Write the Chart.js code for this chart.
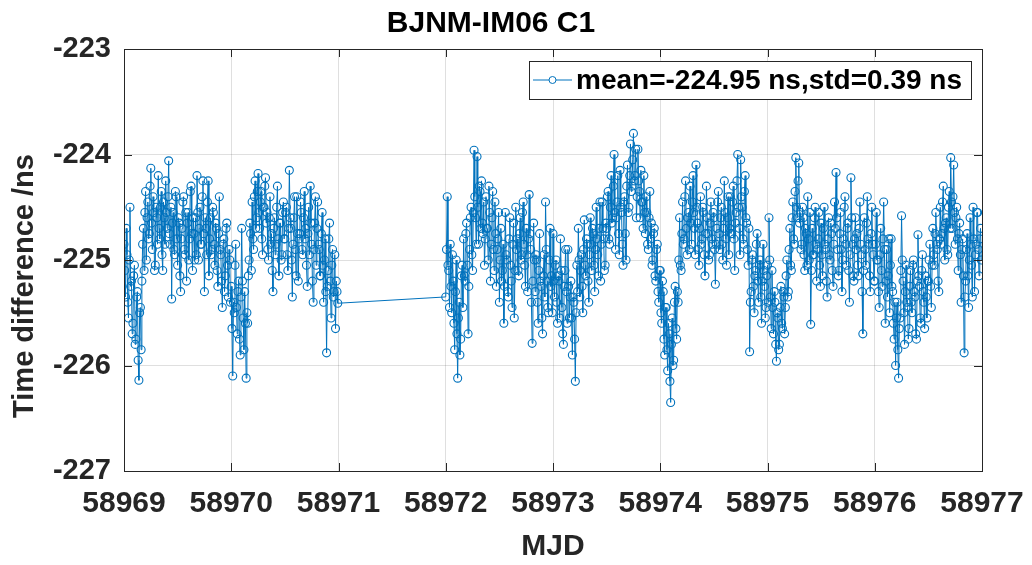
<!DOCTYPE html>
<html>
<head>
<meta charset="utf-8">
<script src="https://cdn.jsdelivr.net/npm/chart.js@4.4.1/dist/chart.umd.min.js"></script>
<style>
  html, body { margin: 0; padding: 0; background: #fff; }
  #wrap { width: 1032px; height: 565px; }
</style>
</head>
<body>
<div id="wrap"><canvas id="chart" width="1032" height="565"></canvas></div>
<script>
// sampling: one point every 10 min, two runs with a gap on 58971
const SEG1_START = 58969.0;
const SEG2_START = 58972.0;
const SAMPLE_STEP = 1 / 144;

// MJD 58969.0 - 58971.0 (rows of 4 h)
const seg1Values = [
  -224.85, -225.10, -225.35, -224.70, -224.95, -225.40, -225.55, -225.00, -224.50, -225.25, -225.20, -225.70, -225.60, -225.15, -225.05, -225.80, -225.75, -225.35, -225.30, -225.95, -226.14, -225.50, -225.45, -225.85,
  -225.20, -224.85, -224.70, -225.10, -224.55, -224.35, -225.00, -224.60, -224.45, -224.80, -224.75, -224.30, -224.13, -224.65, -224.90, -224.40, -224.55, -225.10, -225.05, -224.50, -224.60, -224.85, -224.20, -224.70,
  -224.80, -224.50, -224.35, -224.95, -225.10, -224.45, -224.60, -224.85, -224.25, -224.55, -224.70, -224.40, -224.06, -224.75, -224.85, -224.50, -225.37, -224.65, -224.55, -224.90, -224.95, -224.35, -224.40, -224.80,
  -225.05, -224.60, -224.65, -225.15, -225.30, -224.80, -224.70, -224.45, -224.40, -224.90, -224.95, -224.55, -225.20, -224.65, -224.55, -225.00, -224.80, -224.35, -224.30, -224.75, -225.10, -224.60, -224.75, -225.00,
  -224.60, -224.95, -224.20, -224.55, -225.00, -224.70, -224.50, -224.85, -224.85, -224.40, -224.25, -224.75, -225.30, -224.60, -224.70, -224.95, -224.45, -224.25, -225.15, -224.80, -224.60, -224.95, -224.90, -224.50,
  -224.55, -224.85, -225.05, -224.65, -224.70, -225.10, -225.25, -224.75, -224.40, -224.90, -224.95, -225.20, -225.45, -224.85, -224.80, -225.30, -225.15, -224.70, -224.65, -225.05, -225.35, -224.90, -225.00, -225.40,
  -225.25, -225.65, -226.10, -225.40, -225.50, -225.05, -224.85, -225.45, -225.70, -225.30, -225.20, -225.75, -225.90, -225.35, -224.70, -225.20, -225.55, -225.85, -225.30, -225.60, -226.12, -225.50, -225.60, -225.15,
  -225.00, -224.65, -224.75, -225.10, -224.45, -224.80, -224.90, -224.40, -224.25, -224.70, -224.60, -224.35, -224.18, -224.55, -224.70, -224.45, -224.35, -224.80, -224.95, -224.50, -224.50, -224.30, -224.22, -224.65,
  -224.55, -224.90, -225.00, -224.60, -224.40, -224.85, -224.75, -225.10, -225.30, -224.70, -224.60, -224.95, -224.85, -224.50, -224.30, -224.80, -225.15, -224.65, -224.65, -225.00, -224.95, -224.55, -224.45, -224.80,
  -224.80, -224.55, -224.50, -224.95, -225.10, -224.70, -224.15, -224.60, -224.70, -225.00, -225.35, -224.85, -224.60, -224.40, -224.90, -225.15, -224.40, -224.75, -225.20, -224.80, -224.75, -224.45, -224.55, -224.90,
  -224.95, -224.60, -224.35, -224.80, -224.70, -225.05, -225.25, -224.75, -224.50, -224.95, -224.30, -224.65, -224.85, -225.20, -225.40, -224.90, -224.65, -224.40, -225.05, -224.70, -224.45, -224.85, -224.90, -225.15,
  -225.15, -224.75, -224.55, -225.05, -225.40, -225.00, -224.80, -225.30, -225.88, -225.25, -225.10, -224.80, -224.65, -225.20, -225.55, -225.05, -224.90, -225.35, -225.30, -224.95, -225.65, -225.20, -225.30, -225.41
];

// MJD 58972.0 - 58977.0 (rows of 4 h)
const seg2Values = [
  -225.35, -224.90, -224.40, -225.05, -225.10, -225.45, -224.85, -225.25, -225.50, -224.95, -225.20, -225.60, -225.85, -225.30, -225.00, -225.70, -226.12, -225.55, -225.40, -225.90, -225.75, -225.15, -225.05, -225.45,
  -224.80, -225.15, -225.20, -224.75, -224.65, -225.05, -225.70, -225.25, -224.90, -224.60, -224.50, -224.95, -225.10, -224.55, -223.96, -224.40, -224.60, -224.85, -224.02, -224.50, -224.85, -224.30, -224.35, -224.70,
  -224.25, -224.65, -224.75, -224.45, -225.05, -224.80, -224.40, -224.70, -224.70, -225.00, -224.30, -224.55, -225.20, -224.85, -224.60, -224.35, -224.90, -225.10, -224.45, -224.75, -225.25, -224.90, -224.80, -224.55,
  -225.40, -225.00, -224.70, -225.20, -225.10, -224.85, -225.60, -225.25, -224.55, -224.95, -225.00, -225.30, -225.35, -224.80, -224.60, -225.05, -225.20, -225.45, -224.85, -224.65, -225.55, -225.10, -224.50, -224.90,
  -224.80, -225.10, -225.15, -224.75, -224.60, -225.00, -224.95, -224.55, -224.45, -224.85, -225.05, -225.25, -224.70, -224.95, -225.30, -224.80, -224.38, -224.75, -224.90, -225.40, -225.79, -225.20, -224.65, -225.00,
  -225.30, -224.95, -225.00, -225.40, -225.60, -225.10, -224.75, -225.20, -225.25, -225.55, -225.70, -225.15, -224.95, -225.35, -224.45, -224.90, -225.20, -225.45, -225.50, -225.00, -224.70, -225.25, -225.15, -225.50,
  -224.75, -225.20, -225.35, -225.05, -225.00, -225.40, -225.60, -225.15, -225.20, -225.55, -224.80, -225.10, -225.45, -225.70, -225.80, -225.25, -225.10, -224.90, -225.30, -225.60, -224.90, -225.25, -225.55, -225.35,
  -225.20, -225.55, -225.90, -225.35, -225.40, -225.75, -226.15, -225.50, -225.05, -225.30, -224.70, -225.00, -225.35, -225.10, -224.95, -225.25, -225.50, -224.90, -224.62, -225.05, -225.15, -224.80, -224.85, -225.20,
  -225.40, -224.95, -224.60, -224.85, -225.10, -224.70, -224.75, -225.05, -225.30, -224.90, -224.50, -224.80, -224.95, -225.15, -224.70, -224.45, -225.20, -224.85, -224.45, -224.70, -224.80, -225.10, -225.05, -224.65,
  -224.70, -224.40, -224.35, -224.80, -224.85, -224.50, -224.20, -224.65, -224.60, -224.30, -224.00, -224.55, -224.90, -224.60, -224.45, -224.20, -224.75, -224.95, -224.15, -224.50, -224.55, -224.85, -225.05, -224.45,
  -224.40, -224.75, -225.00, -224.30, -224.10, -224.55, -224.50, -224.20, -223.90, -224.35, -224.30, -224.05, -223.80, -224.25, -224.20, -223.95, -224.60, -224.40, -223.95, -224.25, -224.35, -224.60, -224.15, -224.45,
  -224.45, -224.70, -224.20, -224.55, -224.75, -224.40, -224.55, -224.85, -224.90, -224.60, -224.35, -224.80, -224.65, -225.05, -225.00, -224.75, -224.70, -225.15, -225.20, -224.90, -224.85, -225.30, -225.40, -225.10,
  -225.10, -225.50, -225.60, -225.20, -225.30, -225.75, -225.90, -225.45, -225.45, -225.85, -226.05, -225.60, -225.70, -226.15, -226.35, -225.80, -225.55, -226.00, -225.95, -225.40, -225.25, -225.65, -225.75, -225.30,
  -225.40, -225.00, -224.60, -225.05, -225.10, -224.75, -224.45, -224.85, -224.80, -224.40, -224.25, -224.70, -224.95, -224.60, -224.55, -224.90, -224.30, -224.65, -224.85, -224.45, -224.20, -224.55, -224.70, -224.95,
  -224.10, -224.50, -224.65, -224.90, -225.05, -224.70, -224.40, -224.85, -224.80, -224.50, -224.55, -224.95, -225.15, -224.75, -224.30, -224.60, -224.75, -225.00, -224.95, -224.65, -224.45, -224.80, -224.85, -224.55,
  -224.60, -224.90, -225.23, -224.85, -224.70, -224.45, -224.35, -224.75, -224.90, -224.60, -224.50, -224.85, -225.00, -224.70, -224.25, -224.55, -224.80, -225.05, -224.60, -224.40, -224.95, -224.70, -224.40, -224.75,
  -224.75, -224.45, -224.30, -224.80, -225.10, -224.65, -224.55, -224.25, -224.00, -224.50, -224.70, -224.95, -224.05, -224.40, -224.50, -224.80, -224.85, -224.35, -224.20, -224.60, -224.65, -224.90, -225.05, -224.70,
  -225.87, -225.40, -225.30, -225.00, -224.95, -225.25, -225.50, -225.15, -225.10, -224.85, -224.75, -225.20, -225.40, -225.05, -225.00, -225.35, -225.60, -225.20, -224.85, -225.10, -225.25, -225.55, -225.45, -225.15,
  -225.05, -225.40, -224.60, -225.00, -225.35, -225.65, -225.10, -225.45, -225.70, -225.30, -225.40, -225.80, -225.96, -225.50, -225.55, -225.85, -225.80, -225.45, -225.25, -225.60, -225.65, -225.30, -225.35, -225.70,
  -225.45, -225.15, -225.00, -225.35, -225.30, -224.90, -224.70, -225.05, -225.10, -224.60, -224.45, -224.80, -224.85, -224.35, -224.03, -224.50, -224.60, -224.25, -224.08, -224.65, -224.55, -224.90, -224.85, -224.50,
  -224.60, -224.95, -225.10, -224.70, -224.75, -225.05, -224.40, -224.80, -225.00, -224.55, -225.61, -225.10, -224.70, -224.95, -224.95, -224.60, -224.50, -224.85, -225.20, -224.90, -224.80, -224.55, -225.05, -225.25,
  -224.65, -224.95, -225.15, -224.70, -224.50, -224.85, -224.90, -225.20, -225.35, -224.80, -224.60, -224.95, -225.00, -224.65, -224.75, -225.10, -225.25, -224.85, -224.45, -224.70, -224.17, -224.60, -224.90, -225.15,
  -225.10, -224.75, -224.55, -224.90, -225.30, -225.00, -224.80, -224.50, -224.40, -224.85, -225.05, -224.70, -224.65, -225.10, -225.40, -224.95, -224.22, -224.60, -224.85, -225.15, -225.20, -224.80, -224.60, -224.90,
  -224.75, -225.05, -225.15, -224.70, -224.45, -224.85, -224.95, -225.30, -225.70, -225.10, -224.60, -224.90, -225.05, -224.65, -224.40, -224.80, -224.85, -225.15, -225.30, -224.75, -224.50, -224.85, -224.95, -225.20,
  -225.20, -224.85, -224.55, -225.00, -225.00, -225.30, -225.45, -224.95, -224.70, -225.10, -225.25, -224.80, -224.45, -224.90, -225.60, -225.20, -224.90, -225.35, -225.15, -224.80, -225.50, -225.05, -224.80, -225.25,
  -225.30, -225.60, -225.75, -225.40, -226.00, -225.55, -225.40, -225.85, -226.12, -225.65, -225.55, -225.10, -224.58, -225.00, -225.20, -225.50, -225.80, -225.30, -225.05, -225.40, -225.45, -225.75, -225.65, -225.25,
  -225.10, -225.40, -225.50, -225.05, -225.00, -225.30, -225.35, -225.70, -225.75, -225.20, -224.76, -225.15, -225.25, -225.55, -225.60, -225.10, -224.95, -225.30, -225.40, -225.65, -225.15, -225.35, -225.55, -225.20,
  -225.20, -225.00, -224.85, -225.25, -225.45, -225.05, -224.70, -224.95, -225.05, -224.75, -224.55, -224.85, -224.90, -225.20, -225.30, -224.80, -224.50, -224.85, -224.75, -224.45, -224.30, -224.70, -225.00, -224.65,
  -224.60, -224.90, -224.95, -224.50, -224.35, -224.70, -224.03, -224.45, -224.70, -224.40, -224.10, -224.55, -224.85, -224.60, -224.50, -224.80, -225.10, -224.75, -224.65, -224.95, -225.40, -224.90, -224.80, -225.15,
  -225.88, -225.35, -225.20, -224.90, -224.75, -225.15, -225.45, -225.00, -224.60, -224.85, -225.05, -225.35, -224.50, -224.80, -225.30, -224.95, -224.85, -224.55, -224.55, -224.90, -225.15, -224.80, -224.70, -225.00
];

const xTicks = [58969, 58970, 58971, 58972, 58973, 58974, 58975, 58976, 58977];
const yTicks = [-227, -226, -225, -224, -223];

const titleText = "BJNM-IM06 C1";
const xTitle = "MJD";
const yTitle = "Time difference /ns";
const legendLabel = "mean=-224.95 ns,std=0.39 ns";

const BLUE = "#0072BD";
const AXIS = "#262626";
const FONT = "'Liberation Sans', Arial, Helvetica, sans-serif";

const points = [
  ...seg1Values.map((v, i) => ({ x: SEG1_START + i * SAMPLE_STEP, y: v })),
  ...seg2Values.map((v, i) => ({ x: SEG2_START + i * SAMPLE_STEP, y: v })),
];

// box around the axes + inward ticks, matlab style
const framePlugin = {
  id: "frame",
  afterDatasetsDraw(chart) {
    const { ctx, chartArea: a, scales } = chart;
    const len = 8;
    ctx.save();
    ctx.strokeStyle = AXIS;
    ctx.lineWidth = 1;
    ctx.beginPath();
    xTicks.forEach(v => {
      const px = Math.round(scales.x.getPixelForValue(v)) + 0.5;
      ctx.moveTo(px, a.bottom); ctx.lineTo(px, a.bottom - len);
      ctx.moveTo(px, a.top); ctx.lineTo(px, a.top + len);
    });
    yTicks.forEach(v => {
      const py = Math.round(scales.y.getPixelForValue(v)) + 0.5;
      ctx.moveTo(a.left, py); ctx.lineTo(a.left + len, py);
      ctx.moveTo(a.right, py); ctx.lineTo(a.right - len, py);
    });
    ctx.stroke();
    ctx.strokeRect(Math.round(a.left) + 0.5, Math.round(a.top) + 0.5,
      Math.round(a.right - a.left), Math.round(a.bottom - a.top));

    // y label sits a bit below the axis centre in the original
    ctx.translate(25, 286);
    ctx.rotate(-Math.PI / 2);
    ctx.fillStyle = AXIS;
    ctx.font = "bold 29px " + FONT;
    ctx.textAlign = "center";
    ctx.textBaseline = "middle";
    ctx.fillText(yTitle, 0, 0);
    ctx.restore();
  },
};

// legend box drawn inside the axes (top right)
const legendPlugin = {
  id: "insideLegend",
  afterDraw(chart) {
    const { ctx, chartArea: a } = chart;
    const ds = chart.data.datasets[0];
    const right = a.right - 11, top = a.top + 12;
    const left = 529, h = 38;
    const cy = top + h / 2;
    ctx.save();
    ctx.fillStyle = "#fff";
    ctx.fillRect(left, top, right - left, h);
    ctx.strokeStyle = AXIS;
    ctx.lineWidth = 1;
    ctx.strokeRect(left + 0.5, top + 0.5, right - left, h);
    ctx.strokeStyle = ds.borderColor;
    ctx.beginPath();
    ctx.moveTo(left + 4, cy); ctx.lineTo(left + 43, cy);
    ctx.stroke();
    ctx.beginPath();
    ctx.arc(left + 23.5, cy, 3.5, 0, Math.PI * 2);
    ctx.fillStyle = "#fff";
    ctx.fill();
    ctx.stroke();
    ctx.fillStyle = "#000";
    ctx.font = "bold 28px " + FONT;
    ctx.textBaseline = "middle";
    ctx.fillText(legendLabel, left + 47, cy + 1);
    ctx.restore();
  },
};

new Chart(document.getElementById("chart"), {
  type: "line",
  data: {
    datasets: [{
      label: legendLabel,
      data: points,
      borderColor: BLUE,
      borderWidth: 1,
      pointRadius: 4,
      pointBorderWidth: 1.1,
      pointBorderColor: BLUE,
      pointBackgroundColor: "rgba(0,0,0,0)",
      tension: 0,
    }],
  },
  options: {
    responsive: false,
    animation: false,
    devicePixelRatio: 1,
    layout: { padding: { left: 0, right: 50, top: 0, bottom: 0 } },
    plugins: {
      legend: { display: false },
      tooltip: { enabled: false },
      title: {
        display: true,
        text: titleText,
        color: "#000",
        font: { family: FONT, size: 30, weight: "bold" },
        padding: { top: 6, bottom: 7 },
      },
    },
    scales: {
      x: {
        type: "linear",
        min: 58969,
        max: 58977,
        afterBuildTicks: s => { s.ticks = xTicks.map(v => ({ value: v })); },
        afterFit: s => { s.height = 94; s.paddingLeft = 0; s.paddingRight = 0; },
        ticks: {
          callback: v => String(v),
          color: AXIS,
          padding: 15,
          maxRotation: 0,
          font: { family: FONT, size: 30, weight: "bold" },
        },
        grid: { color: "rgba(38,38,38,0.15)", drawTicks: false },
        border: { display: true, color: AXIS },
        title: {
          display: true,
          text: xTitle,
          color: AXIS,
          font: { family: FONT, size: 30, weight: "bold" },
          padding: { top: 0, bottom: 0 },
        },
      },
      y: {
        min: -227,
        max: -223,
        afterBuildTicks: s => { s.ticks = yTicks.map(v => ({ value: v })); },
        afterFit: s => { s.width = 124; s.paddingTop = 0; s.paddingBottom = 0; },
        ticks: {
          callback: v => String(v),
          color: AXIS,
          padding: 13,
          font: { family: FONT, size: 29, weight: "bold" },
        },
        grid: { color: "rgba(38,38,38,0.15)", drawTicks: false },
        border: { display: true, color: AXIS },
      },
    },
  },
  plugins: [framePlugin, legendPlugin],
});
</script>
</body>
</html>
